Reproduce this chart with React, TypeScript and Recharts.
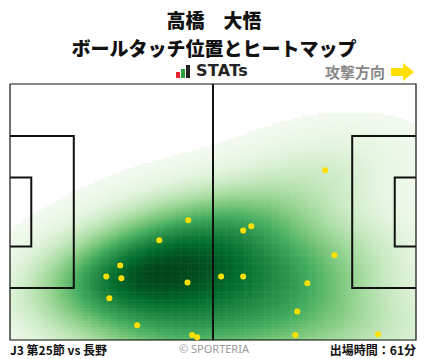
import { ScatterChart, Scatter, XAxis, YAxis } from 'recharts';

// pitch size in metres
const PITCH_LENGTH = 105;
const PITCH_WIDTH = 68;

// ball touches (x = metres from own goal line, y = metres from top touchline)
const touchX = [46.1, 38.6, 28.5, 24.9, 28.8, 45.9, 25.7, 32.9, 47.1, 48.4, 81.5, 62.4, 60.3, 83.9, 54.6, 60.3, 76.9, 74.3, 73.8, 95.2];
const touchY = [36.2, 41.5, 48.2, 51.1, 51.6, 52.7, 56.9, 64.1, 66.7, 67.3, 22.9, 37.8, 38.9, 45.5, 51.1, 51.1, 52.9, 60.4, 66.7, 66.5];

// pitch markings
const outline = [[0, 0], [105, 0], [105, 68], [0, 68], [0, 0]];
const halfway = [[52.5, 0], [52.5, 68]];
const leftBox = [[0, 13.84], [16.5, 13.84], [16.5, 54.16], [0, 54.16]];
const leftSixYard = [[0, 24.84], [5.5, 24.84], [5.5, 43.16], [0, 43.16]];
const rightBox = [[105, 13.84], [88.5, 13.84], [88.5, 54.16], [105, 54.16]];
const rightSixYard = [[105, 24.84], [99.5, 24.84], [99.5, 43.16], [105, 43.16]];

// matplotlib "Greens"
const greens = ['#f7fcf5', '#e5f5e0', '#c7e9c0', '#a1d99b', '#74c476', '#41ab5d', '#238b45', '#006d2c', '#00441b'];

const W = 428;
const H = 359;
const M = { top: 84, right: 12, bottom: 19, left: 10 };
const PLOT_W = W - M.left - M.right;
const PLOT_H = H - M.top - M.bottom;
const NX = 150;
const NY = 97;

// kernel (metres) and lowest filled level
const BW_X = 16;
const BW_Y = 8.5;
const RHO = -0.25;
const CUTOFF = 0.03;

const toPts = (arr: number[][]) => arr.map(([x, y]) => ({ x, y }));

function hexToRgb(h: string) {
  return [1, 3, 5].map((i) => parseInt(h.slice(i, i + 2), 16));
}

function greenAt(t: number) {
  const s = Math.max(0, Math.min(1, t)) * (greens.length - 1);
  const i = Math.min(greens.length - 2, Math.floor(s));
  const f = s - i;
  const a = hexToRgb(greens[i]);
  const b = hexToRgb(greens[i + 1]);
  const c = a.map((v, k) => Math.round(v + (b[k] - v) * f));
  return `rgb(${c[0]},${c[1]},${c[2]})`;
}

function buildHeat() {
  const n = touchX.length;
  const k = 1 / (1 - RHO * RHO);
  const cells: { x: number; y: number; v: number }[] = [];
  let max = 0;
  for (let gx = 0; gx < NX; gx++) {
    for (let gy = 0; gy < NY; gy++) {
      const x = ((gx + 0.5) * PITCH_LENGTH) / NX;
      const y = ((gy + 0.5) * PITCH_WIDTH) / NY;
      let v = 0;
      for (let i = 0; i < n; i++) {
        const dx = (x - touchX[i]) / BW_X;
        const dy = (y - touchY[i]) / BW_Y;
        v += Math.exp(-0.5 * k * (dx * dx - 2 * RHO * dx * dy + dy * dy));
      }
      if (v > max) max = v;
      cells.push({ x, y, v });
    }
  }
  return cells
    .map((c) => ({ ...c, v: c.v / max }))
    .filter((c) => c.v > CUTOFF)
    .map((c) => ({ x: c.x, y: c.y, fill: greenAt(c.v) }));
}

const heat = buildHeat();
const touches = touchX.map((x, i) => ({ x, y: touchY[i] }));

const CELL_W = PLOT_W / NX + 0.5;
const CELL_H = PLOT_H / NY + 0.5;

const HeatCell = (p: any) => (
  <rect x={p.cx - CELL_W / 2} y={p.cy - CELL_H / 2} width={CELL_W} height={CELL_H} fill={p.payload.fill} />
);

const lineStyle = { stroke: '#111', strokeWidth: 2 };
const noDot = () => <g />;

const jp = '"Noto Sans CJK JP", "Noto Sans", sans-serif';
const titleStyle = { position: 'absolute' as const, left: 0, width: W, textAlign: 'center' as const, fontWeight: 900, fontSize: 19, lineHeight: '28px', color: '#111' };

export default function App() {
  return (
    <div style={{ position: 'relative', width: W, height: H, background: '#fff', fontFamily: jp }}>
      <style>{'body{margin:0}'}</style>
      <div style={{ ...titleStyle, top: 6 }}>高橋　大悟</div>
      <div style={{ ...titleStyle, top: 34 }}>ボールタッチ位置とヒートマップ</div>

      <div style={{ position: 'absolute', top: 62, left: 176, display: 'flex', alignItems: 'flex-end', height: 18 }}>
        <svg width={15} height={13} style={{ marginBottom: 2 }}>
          <rect x={0} y={7} width={4} height={6} fill="#e3262e" />
          <rect x={5} y={4} width={4} height={9} fill="#2aa23a" />
          <rect x={10} y={0} width={4} height={13} fill="#222" />
        </svg>
        <span style={{ marginLeft: 5, fontFamily: '"DejaVu Sans", sans-serif', fontWeight: 700, fontSize: 16, lineHeight: '19px', color: '#222', letterSpacing: 0.3 }}>STATs</span>
      </div>

      <div style={{ position: 'absolute', top: 62, left: 325, fontSize: 15, lineHeight: '19px', color: '#888', fontWeight: 700 }}>攻撃方向</div>
      <svg style={{ position: 'absolute', top: 62, left: 390 }} width={26} height={20}>
        <polygon points="1,6 13,6 13,1 24,10 13,19 13,14 1,14" fill="#ffe000" />
      </svg>

      <div style={{ position: 'absolute', left: 0, top: 0 }}>
        <ScatterChart width={W} height={H} margin={M}>
          <XAxis type="number" dataKey="x" domain={[0, PITCH_LENGTH]} hide />
          <YAxis type="number" dataKey="y" domain={[0, PITCH_WIDTH]} reversed hide />
          <Scatter data={heat} shape={HeatCell} isAnimationActive={false} />
          <Scatter data={toPts(leftBox)} line={lineStyle} shape={noDot} isAnimationActive={false} />
          <Scatter data={toPts(leftSixYard)} line={lineStyle} shape={noDot} isAnimationActive={false} />
          <Scatter data={toPts(rightBox)} line={lineStyle} shape={noDot} isAnimationActive={false} />
          <Scatter data={toPts(rightSixYard)} line={lineStyle} shape={noDot} isAnimationActive={false} />
          <Scatter data={toPts(halfway)} line={lineStyle} shape={noDot} isAnimationActive={false} />
          <Scatter data={toPts(outline)} line={{ stroke: '#111', strokeWidth: 1.2 }} shape={noDot} isAnimationActive={false} />
          <Scatter data={touches} isAnimationActive={false}
            shape={(p: any) => <circle cx={p.cx} cy={p.cy} r={3} fill="#ffe000" />} />
        </ScatterChart>
      </div>

      <div style={{ position: 'absolute', top: 341, left: 10, fontSize: 12, lineHeight: '17px', fontWeight: 700, color: '#111' }}>J3 第25節 vs 長野</div>
      <div style={{ position: 'absolute', top: 342, left: 0, width: W, textAlign: 'center', fontSize: 11, lineHeight: '14px', color: '#999', fontFamily: '"Noto Sans", sans-serif' }}>© SPORTERIA</div>
      <div style={{ position: 'absolute', top: 341, right: 12, fontSize: 12, lineHeight: '17px', fontWeight: 700, color: '#111' }}>出場時間：61分</div>
    </div>
  );
}
